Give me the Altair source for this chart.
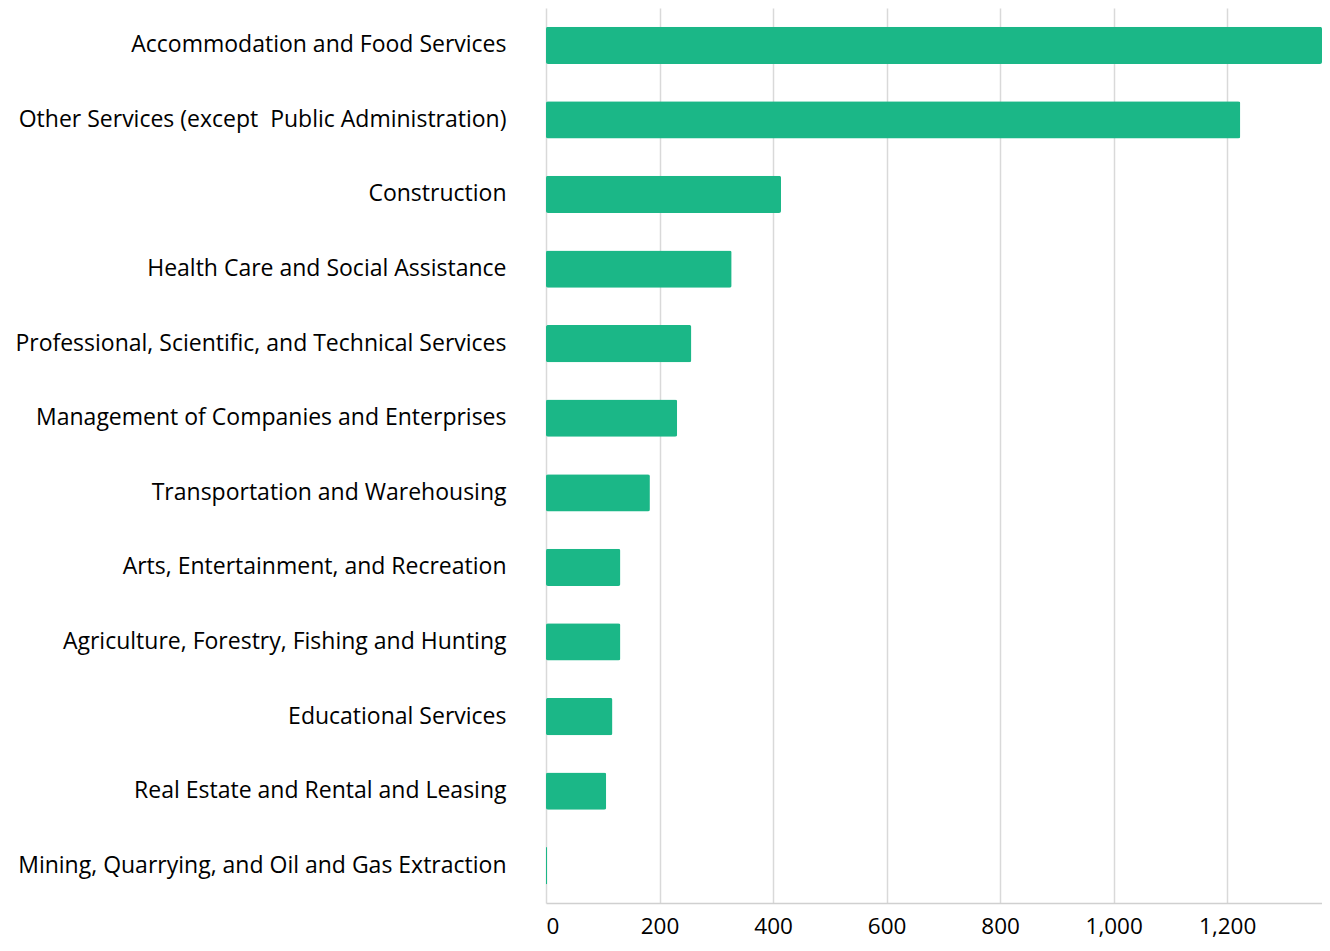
import altair as alt
import pandas as pd

categories = [
    "Accommodation and Food Services",
    "Other Services (except\u00a0 Public Administration)",
    "Construction",
    "Health Care and Social Assistance",
    "Professional, Scientific, and Technical Services",
    "Management of Companies and Enterprises",
    "Transportation and Warehousing",
    "Arts, Entertainment, and Recreation",
    "Agriculture, Forestry, Fishing and Hunting",
    "Educational Services",
    "Real Estate and Rental and Leasing",
    "Mining, Quarrying, and Oil and Gas Extraction",
]
values = [1380, 1223, 414, 327, 256, 231, 183, 131, 131, 117, 106, 2]
tick_values = [0, 200, 400, 600, 800, 1000, 1200]

df = pd.DataFrame({"category": categories, "value": values})

chart = (
    alt.Chart(df)
    .mark_bar(color="#1bb787", cornerRadius=2)
    .encode(
        x=alt.X(
            "value:Q",
            scale=alt.Scale(domain=[0, 1367], nice=False, clamp=True),
            axis=alt.Axis(
                values=tick_values,
                format=",.0f",
                title=None,
                grid=True,
                gridColor="#d9d9d9",
                gridWidth=1.5,
                domainColor="#d0d0d0",
                domainWidth=1.5,
                ticks=False,
                labelFont="Open Sans",
                labelFontSize=22.5,
                labelColor="#000000",
                labelPadding=12,
            ),
        ),
        y=alt.Y(
            "category:N",
            sort=categories,
            scale=alt.Scale(paddingInner=0.5, paddingOuter=0.25),
            axis=alt.Axis(
                title=None,
                domain=False,
                ticks=False,
                labelFont="Open Sans",
                labelFontSize=23,
                labelColor="#000000",
                labelPadding=40,
                labelLimit=600,
            ),
        ),
    )
    .properties(
        width=776,
        height=895,
        autosize=alt.AutoSizeParams(type="none"),
        padding={"left": 538, "top": 0, "right": 0, "bottom": 40},
    )
    .configure_view(stroke=None)
)

chart.save("out.html", embed_options={"renderer": "svg", "actions": False})
